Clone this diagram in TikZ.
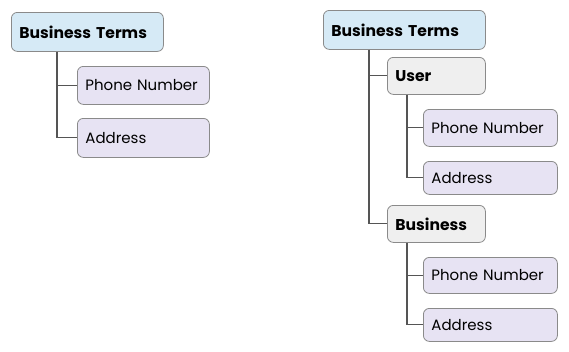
\documentclass[tikz,border=0pt]{standalone}
\usepackage{fontspec}
\setmainfont{Poppins}
\usetikzlibrary{calc}
\definecolor{bluefill}{HTML}{D6EAF6}
\definecolor{lavfill}{HTML}{E7E3F3}
\definecolor{grayfill}{HTML}{EFEFEF}
\definecolor{boxline}{HTML}{8A8A8A}
\definecolor{conn}{HTML}{555555}
\begin{document}
\begin{tikzpicture}[x=1pt,y=-1pt,
  box/.style={draw=boxline,line width=0.8pt,rounded corners=6pt,anchor=north west,
    inner sep=0pt,align=left,font=\fontsize{15}{17}\selectfont},
  rootbox/.style={box,fill=bluefill,font=\fontsize{15.6}{17}\selectfont\bfseries},
  groupbox/.style={box,fill=grayfill,font=\fontsize{15.6}{17}\selectfont\bfseries},
  leafbox/.style={box,fill=lavfill},
  link/.style={draw=conn,line width=1.1pt}]
\useasboundingbox[fill=white] (0,0) rectangle (569,351);
% left tree
\node[rootbox,minimum width=152pt,minimum height=39pt,text width=136pt] (Lbt) at (11,12) {Business Terms};
\node[leafbox,minimum width=132pt,minimum height=38pt,text width=116pt] (Lph) at (77,66) {Phone Number};
\node[leafbox,minimum width=132pt,minimum height=39pt,text width=116pt] (Lad) at (77,118) {Address};
\coordinate (Lv) at ($(Lbt.south west)+(46,0)$);
\draw[link] (Lv) |- (Lad.west);
\draw[link] (Lv) |- (Lph.west);
% right tree
\node[rootbox,minimum width=162pt,minimum height=39pt,text width=146pt] (Rbt) at (323,10) {Business Terms};
\node[groupbox,minimum width=98pt,minimum height=37pt,text width=82pt] (Ru) at (387,57) {User};
\node[leafbox,minimum width=134pt,minimum height=37pt,text width=118pt] (Ruph) at (423,109) {Phone Number};
\node[leafbox,minimum width=134pt,minimum height=33pt,text width=118pt] (Ruad) at (423,161) {Address};
\node[groupbox,minimum width=98pt,minimum height=37pt,text width=82pt] (Rb) at (387,205) {Business};
\node[leafbox,minimum width=134pt,minimum height=36pt,text width=118pt] (Rbph) at (423,257) {Phone Number};
\node[leafbox,minimum width=134pt,minimum height=33pt,text width=118pt] (Rbad) at (423,308) {Address};
\coordinate (Rv) at ($(Rbt.south west)+(46,0)$);
\draw[link] (Rv) |- (Rb.west);
\draw[link] (Rv) |- (Ru.west);
\coordinate (Ruv) at ($(Ru.south west)+(20,0)$);
\draw[link] (Ruv) |- (Ruad.west);
\draw[link] (Ruv) |- (Ruph.west);
\coordinate (Rbv) at ($(Rb.south west)+(20,0)$);
\draw[link] (Rbv) |- (Rbad.west);
\draw[link] (Rbv) |- (Rbph.west);
\end{tikzpicture}
\end{document}
